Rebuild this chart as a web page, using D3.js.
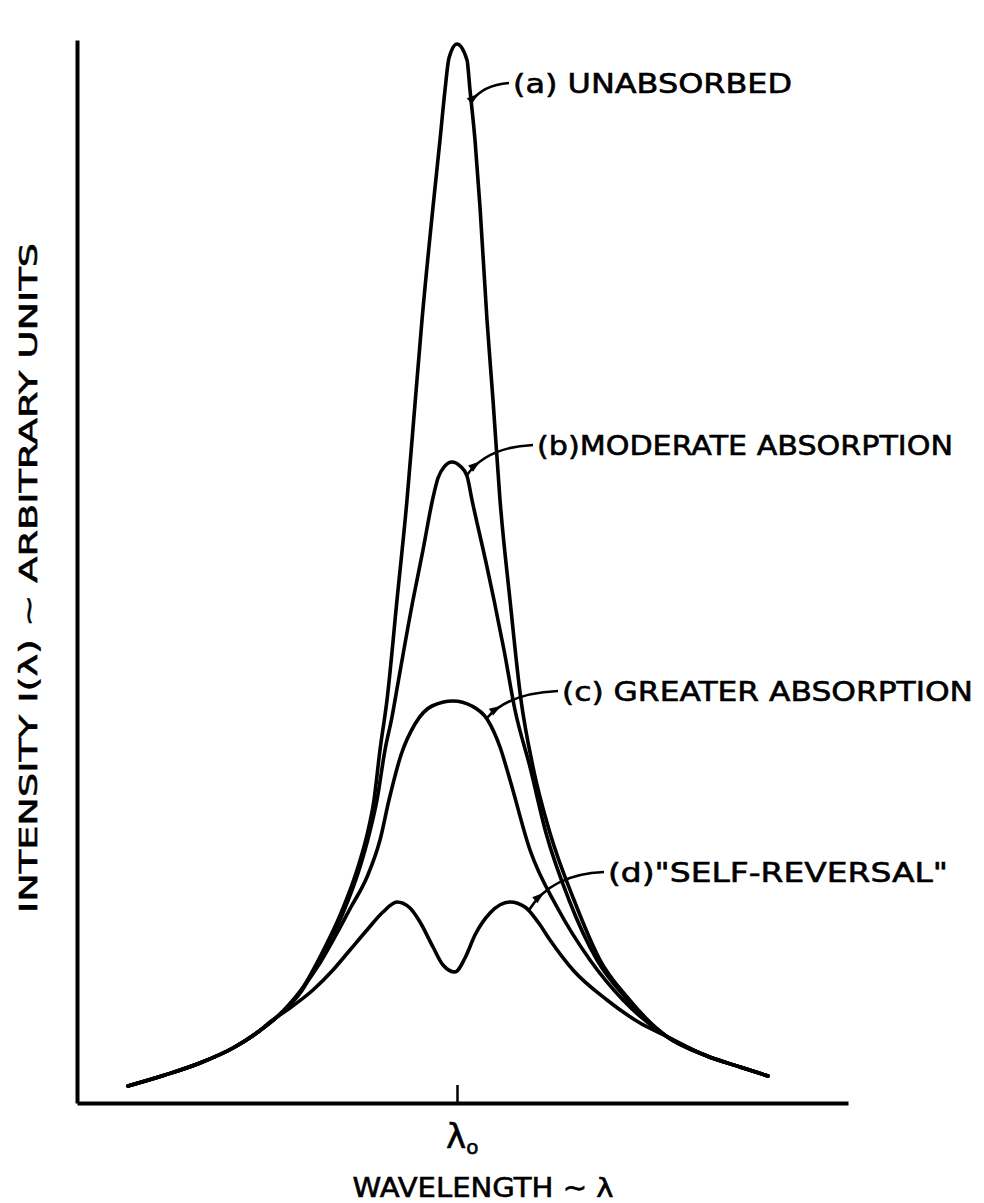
<!DOCTYPE html>
<html>
<head>
<meta charset="utf-8">
<script src="https://cdn.jsdelivr.net/npm/d3@7"></script>
<style>
	body { margin: 0; background: #fff; }
	text { font-family: 'DejaVu Sans', sans-serif; fill: #000; stroke: #000; stroke-width: 0.6px; }
</style>
</head>
<body>
<div id="chart"></div>
<script>
// DATA: wavelength offset from λ0 vs intensity, both arbitrary units
const tailLeft = [[-32.9, 1.7], [-29.2, 2.8], [-25.7, 4.0], [-22.4, 5.5], [-19.9, 7.1]];
const tailRight = [[20.9, 6.7], [25.0, 4.7], [28.3, 3.6], [31.1, 2.7]];

const unabsorbed = [
	[-17.9, 8.7], [-15.7, 11.1], [-13.6, 14.8], [-11.6, 19.0], [-9.9, 23.6], [-9.0, 26.8],
	[-8.3, 30.3], [-7.7, 35.3], [-7.0, 40.3], [-6.0, 50.3], [-5.0, 60.3], [-4.25, 69.3],
	[-3.5, 78.3], [-2.4, 89.6], [-1.7, 96.3], [-1.2, 101.3], [-0.8, 104.5], [0, 105.9],
	[1.0, 104.3], [1.3, 101.3], [1.8, 96.3], [2.3, 89.6], [3.0, 78.3], [3.6, 70.3],
	[4.3, 60.3], [5.3, 50.3], [6.4, 40.3], [7.6, 33.6], [9.3, 27.0], [11.7, 20.3],
	[14.3, 14.3], [17.0, 10.6]
];
const moderate = [
	[-17.9, 8.7], [-15.6, 11.1], [-13.5, 14.8], [-11.4, 19.0], [-9.7, 23.6], [-8.8, 26.8],
	[-8.0, 30.3], [-7.2, 35.3], [-6.5, 38.6], [-5.9, 42.0], [-4.4, 50.3], [-3.4, 55.3],
	[-2.45, 60.3], [-1.9, 62.5], [-1.3, 63.6], [-0.5, 64.1], [0.3, 63.7], [1.0, 62.7],
	[1.5, 60.3], [3.0, 53.6], [3.7, 50.3], [4.7, 45.3], [5.8, 39.3], [7.3, 33.6],
	[8.9, 27.0], [11.2, 20.3], [14.0, 14.3], [16.8, 10.6]
];
const greater = [
	[-17.9, 8.7], [-15.6, 11.3], [-13.7, 14.0], [-12.1, 16.8], [-10.6, 19.6], [-9.0, 22.6],
	[-7.7, 26.3], [-6.8, 30.3], [-5.6, 34.8], [-4.2, 37.9], [-2.5, 39.7], [-0.4, 40.2],
	[1.5, 39.7], [3.0, 38.4], [4.3, 35.6], [5.3, 32.3], [7.3, 25.3], [10.0, 19.6],
	[13.3, 14.3], [16.6, 10.3]
];
const selfReversal = [
	[-18.7, 8.1], [-16.7, 9.5], [-14.4, 11.3], [-12.4, 13.3], [-10.7, 15.3], [-9.0, 17.3],
	[-7.4, 19.1], [-6.0, 20.1], [-4.7, 19.5], [-3.7, 18.1], [-2.4, 15.6], [-1.4, 13.8],
	[-0.2, 13.1], [0.8, 14.5], [1.8, 16.8], [3.3, 19.0], [5.3, 20.1], [6.8, 19.6],
	[8.1, 18.1], [9.3, 16.3], [11.6, 13.3], [15.0, 10.3], [18.3, 8.0]
];

const labelText = ['(a) UNABSORBED', '(b)MODERATE ABSORPTION', '(c) GREATER ABSORPTION', '(d)"SELF-REVERSAL"'];
const labelTip = [[1.4, 100.1], [1.0, 62.8], [3.0, 38.5], [7.2, 19.3]];   // where the leader meets its curve
const labelAt = [[5.6, 102.0], [8.0, 65.8], [10.5, 41.2], [15.1, 23.1]];  // start of the label text

const xTicks = [0];
const xTitle = 'WAVELENGTH \u223C \u03BB';
const yTitle = 'INTENSITY  I(\u03BB) \u223C ARBITRARY UNITS';



// SETUP
const width = 984, height = 1203;
const margin = { top: 40, right: 136, bottom: 100, left: 77 };
const labelWidths = [279, 416, 411, 340];

const svg = d3.select('#chart')
	.append('svg')
	.attr('width', width)
	.attr('height', height);

const x = d3.scaleLinear()
	.domain([-38, 39.1])
	.range([margin.left, width - margin.right]);

const y = d3.scaleLinear()
	.domain([0, 106.3])
	.range([height - margin.bottom, margin.top]);

const line = d3.line()
	.x(d => x(d[0]))
	.y(d => y(d[1]))
	.curve(d3.curveMonotoneX);



// AXES
svg.append('g')
	.attr('transform', `translate(0, ${y(0)})`)
	.call(d3.axisBottom(x)
		.tickValues(xTicks)
		.tickSize(-18)
		.tickSizeOuter(0)
		.tickFormat('')
	)
	.call(g => g.select('.domain').attr('stroke-width', 4))
	.call(g => g.selectAll('.tick line').attr('stroke-width', 2.5));

svg.append('g')
	.attr('transform', `translate(${x.range()[0]}, 0)`)
	.call(d3.axisLeft(y).tickValues([]).tickSizeOuter(0))
	.call(g => g.select('.domain').attr('stroke-width', 4));

// λ0 under the tick
const lam = svg.append('text')
	.attr('x', x(0) - 11)
	.attr('y', y(0) + 45)
	.style('font-size', '34px')
	.text('\u03BB');
lam.append('tspan')
	.attr('dy', 6)
	.style('font-size', '20px')
	.text('o');

svg.append('text')
	.attr('x', 483)
	.attr('y', y(0) + 94)
	.attr('text-anchor', 'middle')
	.attr('textLength', 261)
	.attr('lengthAdjust', 'spacingAndGlyphs')
	.style('font-size', '27px')
	.text(xTitle);

svg.append('text')
	.attr('transform', `translate(37, 578) rotate(-90)`)
	.attr('text-anchor', 'middle')
	.attr('textLength', 670)
	.attr('lengthAdjust', 'spacingAndGlyphs')
	.style('font-size', '24px')
	.text(yTitle);



// CURVES
[unabsorbed, moderate, greater, selfReversal].forEach(mid => {
	const pts = tailLeft.concat(mid, tailRight);
	svg.append('path')
		.datum(pts)
		.attr('fill', 'none')
		.attr('stroke', '#000')
		.attr('stroke-width', 3.6)
		.attr('stroke-linejoin', 'round')
		.attr('stroke-linecap', 'round')
		.attr('d', line);
});



// LABELS with curved leaders and little arrowheads
labelText.forEach((t, i) => {
	const x0 = x(labelTip[i][0]), y0 = y(labelTip[i][1]);
	const x1 = x(labelAt[i][0]) - 4, y1 = y(labelAt[i][1]);
	const cx = x0 + (x1 - x0) * 0.3, cy = y1 + 2;

	svg.append('path')
		.attr('d', `M${x0},${y0}Q${cx},${cy} ${x1},${y1}`)
		.attr('fill', 'none')
		.attr('stroke', '#000')
		.attr('stroke-width', 2.6);

	// arrowhead a quarter of the way along, pointing back at the curve
	const tt = 0.28;
	const px = (1 - tt) * (1 - tt) * x0 + 2 * (1 - tt) * tt * cx + tt * tt * x1;
	const py = (1 - tt) * (1 - tt) * y0 + 2 * (1 - tt) * tt * cy + tt * tt * y1;
	const dx = 2 * (1 - tt) * (cx - x0) + 2 * tt * (x1 - cx);
	const dy = 2 * (1 - tt) * (cy - y0) + 2 * tt * (y1 - cy);
	const ang = Math.atan2(dy, dx) * 180 / Math.PI + 180;
	svg.append('path')
		.attr('d', 'M0,0L12,-4L12,4Z')
		.attr('transform', `translate(${px},${py}) rotate(${ang})`)
		.attr('fill', '#000');

	svg.append('text')
		.attr('x', x(labelAt[i][0]))
		.attr('y', y(labelAt[i][1]) + 10)
		.attr('textLength', labelWidths[i])
		.attr('lengthAdjust', 'spacingAndGlyphs')
		.style('font-size', '27px')
		.text(t);
});
</script>
</body>
</html>
